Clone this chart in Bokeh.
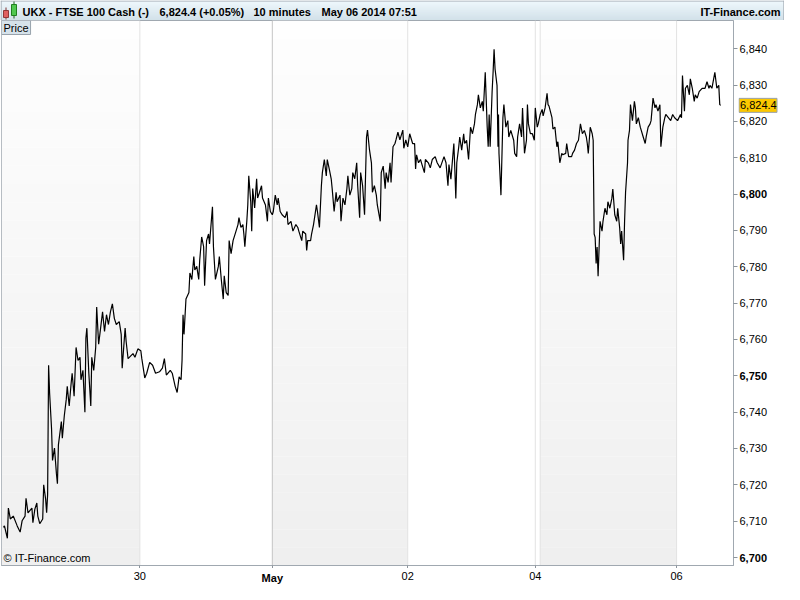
from bokeh.plotting import figure
from bokeh.layouts import column, row
from bokeh.models import Range1d, FixedTicker, Span, Label
from bokeh.core.properties import value
from bokeh.embed import file_html
from bokeh.resources import INLINE

# ---------------- data (10-minute bars, bar index on x) ----------------
bar = [
    3, 4, 7, 8, 10, 13, 17, 20, 22, 25,
    26, 28, 32, 33, 35, 37, 38, 40, 43, 44,
    46, 47, 48, 49, 50, 52, 53, 55, 57, 58,
    59, 62, 63, 65, 67, 68, 70, 72, 73, 75,
    77, 79, 81, 82, 84, 86, 87, 88, 90, 92,
    93, 95, 97, 98, 100, 102, 104, 106, 108, 110,
    112, 114, 116, 118, 121, 123, 124, 126, 127, 128,
    130, 135, 137, 140, 143, 144, 147, 149, 152, 155,
    158, 162, 165, 167, 169, 173, 175, 178, 180, 182,
    184, 185, 186, 187, 189, 192, 193, 195, 197, 198,
    200, 202, 203, 205, 207, 208, 210, 212, 213, 216,
    217, 219, 222, 223, 225, 227, 228, 230, 232, 233,
    235, 237, 240, 242, 243, 245, 247, 248, 249, 251,
    252, 253, 255, 256, 257, 259, 261, 262, 264, 266,
    267, 270, 272, 273, 275, 277, 278, 280, 282, 283,
    285, 287, 290, 292, 293, 296, 298, 301, 303, 304,
    307, 308, 311, 312, 313, 316, 317, 319, 322, 323,
    325, 327, 328, 330, 332, 333, 335, 337, 338, 340,
    342, 343, 346, 347, 349, 351, 353, 354, 356, 358,
    359, 361, 363, 364, 366, 367, 369, 371, 373, 374,
    376, 378, 379, 381, 383, 384, 387, 388, 390, 392,
    393, 395, 397, 398, 400, 402, 403, 405, 407, 410,
    411, 413, 415, 417, 418, 420, 422, 423, 424, 426,
    428, 430, 432, 433, 436, 438, 440, 443, 445, 448,
    452, 454, 456, 457, 459, 462, 463, 464, 465, 467,
    468, 470, 472, 473, 475, 477, 479, 481, 483, 484,
    486, 487, 489, 491, 492, 494, 496, 497, 498, 499,
    501, 502, 503, 504, 506, 507, 507.5, 508, 510, 512,
    513, 515, 517, 518, 520, 523, 524, 526, 527, 529,
    531, 532, 534, 536, 537, 538, 540, 542, 544, 545,
    547, 548, 550, 552, 553, 555, 557, 558, 559, 562,
    563, 565, 567, 568, 570, 572, 573, 576, 577, 579,
    582, 583, 585, 587, 589, 591, 593, 595, 597, 598,
    599, 601, 603, 604, 605, 606, 607, 608, 609, 611,
    613, 614, 616, 618, 619, 621, 623, 624, 626, 628,
    629, 631, 632, 633, 635, 636, 637, 639, 639.5, 641,
    642, 644, 646, 647, 648, 650, 652, 653, 655, 657,
    658, 660, 662, 663, 665, 667, 668, 670, 672, 673,
    675, 677, 678, 683, 685, 687, 690, 693, 694, 695,
    697, 698, 700, 702, 703, 705, 707, 708, 710, 712,
    715, 718, 720, 722, 723, 725, 728, 730, 732, 733,
    734,
]
price = [
    6708.3, 6708.7, 6705.3, 6713.6, 6710.6, 6711.4, 6708.7, 6707.0, 6710.1, 6711.4,
    6716.3, 6712.3, 6713.6, 6709.6, 6713.3, 6715.0, 6711.4, 6709.3, 6710.6, 6720.0,
    6716.0, 6712.3, 6717.3, 6752.9, 6745.4, 6735.5, 6726.7, 6730.1, 6723.0, 6720.3,
    6731.0, 6737.4, 6732.8, 6739.0, 6743.5, 6747.1, 6741.7, 6748.0, 6750.7, 6744.4,
    6757.8, 6754.2, 6755.1, 6748.9, 6751.5, 6740.0, 6760.4, 6763.1, 6750.7, 6741.7,
    6755.1, 6751.5, 6757.8, 6768.9, 6758.7, 6763.1, 6767.6, 6762.2, 6766.8, 6764.1,
    6767.6, 6769.8, 6765.8, 6764.1, 6764.9, 6761.4, 6752.1, 6759.5, 6763.1, 6759.5,
    6754.7, 6756.1, 6755.1, 6757.4, 6756.9, 6754.7, 6749.4, 6750.7, 6753.7, 6752.9,
    6750.7, 6751.1, 6752.1, 6754.7, 6750.2, 6751.5, 6750.7, 6747.1, 6745.4, 6749.7,
    6748.9, 6754.2, 6766.8, 6761.4, 6771.1, 6772.9, 6778.3, 6776.5, 6782.8, 6779.1,
    6780.1, 6776.5, 6781.8, 6788.2, 6785.5, 6774.8, 6787.2, 6789.0, 6786.3, 6796.5,
    6785.5, 6776.5, 6780.1, 6782.8, 6776.5, 6771.1, 6777.5, 6772.9, 6772.1, 6787.2,
    6783.6, 6787.2, 6789.8, 6791.6, 6793.5, 6790.8, 6791.6, 6789.0, 6785.5, 6792.5,
    6797.0, 6805.0, 6797.9, 6789.8, 6801.5, 6796.2, 6804.2, 6798.9, 6800.5, 6802.3,
    6798.9, 6797.0, 6792.5, 6798.9, 6795.2, 6794.3, 6795.2, 6799.7, 6797.0, 6798.9,
    6795.2, 6794.3, 6793.5, 6795.2, 6791.6, 6792.5, 6789.8, 6791.6, 6790.8, 6789.8,
    6787.2, 6789.8, 6789.0, 6784.5, 6787.2, 6787.2, 6789.0, 6791.6, 6797.0, 6795.2,
    6790.8, 6802.3, 6805.9, 6809.5, 6805.0, 6809.5, 6806.9, 6804.2, 6801.5, 6795.2,
    6800.5, 6797.9, 6799.7, 6792.5, 6798.9, 6797.0, 6801.5, 6805.0, 6799.7, 6801.5,
    6805.9, 6804.2, 6808.6, 6802.3, 6793.5, 6805.9, 6802.3, 6794.3, 6815.7, 6817.6,
    6812.2, 6808.6, 6800.5, 6802.3, 6799.7, 6797.0, 6792.5, 6805.9, 6807.7, 6801.5,
    6805.9, 6803.2, 6808.6, 6803.2, 6813.0, 6813.9, 6814.9, 6817.0, 6814.9, 6817.6,
    6812.6, 6814.9, 6813.0, 6816.6, 6815.7, 6813.9, 6813.9, 6806.9, 6810.8, 6808.6,
    6809.5, 6807.7, 6805.9, 6809.5, 6808.6, 6807.2, 6809.5, 6810.3, 6808.6, 6807.2,
    6810.3, 6808.6, 6802.3, 6808.1, 6804.1, 6813.9, 6806.8, 6798.8, 6808.6, 6813.0,
    6815.7, 6812.1, 6816.6, 6813.9, 6814.8, 6809.5, 6818.4, 6816.6, 6819.3, 6821.9,
    6824.6, 6827.3, 6823.7, 6825.5, 6822.8, 6833.5, 6818.4, 6813.0, 6821.9, 6813.0,
    6828.2, 6833.5, 6839.8, 6834.4, 6829.9, 6813.0, 6821.9, 6811.2, 6799.7, 6821.0,
    6824.6, 6818.4, 6820.2, 6815.7, 6817.5, 6814.8, 6811.2, 6810.3, 6815.7, 6819.3,
    6815.7, 6823.7, 6811.2, 6814.8, 6824.6, 6819.3, 6816.6, 6816.6, 6814.8, 6823.7,
    6818.4, 6819.3, 6821.9, 6823.3, 6821.5, 6823.7, 6827.7, 6824.6, 6824.2, 6821.0,
    6817.9, 6818.4, 6813.0, 6814.4, 6808.6, 6811.2, 6810.8, 6811.2, 6813.9, 6810.3,
    6810.3, 6811.2, 6812.1, 6813.9, 6814.8, 6819.3, 6816.6, 6817.5, 6815.7, 6813.9,
    6811.2, 6818.4, 6816.6, 6814.8, 6789.0, 6788.1, 6780.9, 6785.4, 6777.4, 6792.5,
    6789.8, 6792.5, 6796.1, 6794.3, 6797.9, 6796.1, 6798.8, 6801.4, 6794.3, 6792.5,
    6796.1, 6790.7, 6786.3, 6789.8, 6781.8, 6792.5, 6800.5, 6808.6, 6814.8, 6817.5,
    6824.6, 6820.2, 6825.5, 6823.7, 6819.3, 6821.0, 6818.4, 6817.5, 6815.7, 6813.9,
    6815.7, 6818.4, 6819.3, 6820.2, 6826.4, 6823.7, 6824.6, 6822.8, 6824.6, 6813.0,
    6818.4, 6821.0, 6821.9, 6820.2, 6821.9, 6821.0, 6820.2, 6821.9, 6821.0, 6832.6,
    6822.8, 6829.1, 6829.9, 6827.3, 6831.7, 6829.1, 6825.5, 6827.3, 6826.4, 6828.2,
    6829.1, 6829.1, 6830.9, 6829.1, 6829.9, 6829.1, 6833.5, 6829.1, 6829.9, 6824.6,
    6824.4,
]
assert len(bar) == len(price)

# day boundaries (bar index where each calendar day starts) and day-of-month
day_start_bar = [1, 142, 277, 415, 545, 550, 689]
day_of_month = [29, 30, 1, 2, 4, 5, 6]
month_names = {1: "May"}

y_ticks = list(range(6700, 6841, 10))

header_texts = ["UKX - FTSE 100 Cash (-)", "6,824.4 (+0.05%)", "10 minutes", "May 06 2014 07:51"]
brand = "IT-Finance.com"

# ---------------- layout constants ----------------
W, H = 784, 584
HDR = 20
SIDE = 46
TICKS = 3      # height of the bottom axis (tick marks only)
STRIP = 16     # height of the date-label strip
BL, BR = 1, 5  # left / right borders of the main plot
x_start, x_end = 1, 747
y_lo, y_hi = 6697.8, 6847.75
FONT = "Liberation Sans"
GRAYLINE = "#a0a8b0"
TICKCOL = "#8c949c"

# ---------------- header ----------------
hdr = figure(width=W, height=HDR, x_range=Range1d(0, W), y_range=Range1d(HDR, 0),
             output_backend="svg", toolbar_location=None, min_border=0,
             x_axis_location=None, y_axis_location=None, outline_line_color=None)
hdr.frame_align = False
hdr.grid.visible = False
top_c, bot_c = (234, 246, 252), (195, 215, 226)
hl, hr, hb, ht, hc = [], [], [], [], []
for k in range(HDR):
    t = k / (HDR - 1)
    c = tuple(int(round(a + (b - a) * t)) for a, b in zip(top_c, bot_c))
    hl.append(0); hr.append(W); ht.append(k); hb.append(k + 1)
    hc.append("#%02x%02x%02x" % c)
hdr.quad(left=hl, right=hr, top=ht, bottom=hb, fill_color=hc, line_color=None)
hdr.segment(x0=[0, 0.6, W - 0.6], y0=[0.5, 0, 0], x1=[W, 0.6, W - 0.6], y1=[0.5, HDR, HDR],
            line_color=GRAYLINE, line_width=1)
# candle icon
hdr.segment(x0=[5.5, 13.5], y0=[7, 1], x1=[5.5, 13.5], y1=[19, 18], line_color=["#803030", "#206020"])
hdr.quad(left=[3, 11], right=[8, 16], top=[10, 4], bottom=[17, 15],
         fill_color=["#e06060", "#50c850"], line_color=["#903838", "#208020"])
hdr.text(x=[22, 159, 253, 321], y=[11, 11, 11, 11], text=header_texts,
         text_font=value(FONT), text_font_style="bold", text_font_size="11px",
         text_baseline="middle", text_align="left", text_color="#000000")
hdr.text(x=[W - 4], y=[11], text=[brand], text_font=value(FONT), text_font_style="bold",
         text_font_size="11px", text_baseline="middle", text_align="right", text_color="#000000")

# ---------------- main chart ----------------
main_h = H - HDR - STRIP
p = figure(width=W - SIDE, height=main_h, x_range=Range1d(x_start, x_end),
           y_range=Range1d(y_lo, y_hi),
           output_backend="svg", toolbar_location=None, y_axis_location="right",
           min_border_left=BL, min_border_right=BR, min_border_top=0, min_border_bottom=TICKS,
           background_fill_color="white", border_fill_color="white",
           outline_line_color=GRAYLINE)
p.frame_align = False
p.grid.visible = False

# shaded (odd calendar day) backgrounds with a vertical gradient
bounds = day_start_bar + [x_end]
n = 30
ql, qr, qb, qt, qc = [], [], [], [], []
for i, d in enumerate(day_of_month):
    if d % 2 == 1:
        for k in range(n):
            t = (k + 0.5) / n
            g = int(round(0xef + (0xfe - 0xef) * t))
            ql.append(bounds[i]); qr.append(bounds[i + 1])
            qb.append(y_lo + (y_hi - y_lo) * k / n)
            qt.append(y_lo + (y_hi - y_lo) * (k + 1) / n)
            qc.append("#%02x%02x%02x" % (g, g, g))
shade = p.quad(left=ql, right=qr, bottom=qb, top=qt, fill_color=qc, line_color=None)
shade.level = "underlay"

for b, d in zip(day_start_bar[1:], day_of_month[1:]):
    sp = Span(location=b, dimension="height",
              line_color="#c4c4c4" if d in month_names else "#e2e2e2", line_width=1)
    sp.level = "underlay"
    p.add_layout(sp)

p.line(bar, price, line_color="black", line_width=1.2)

# y axis (right): tick marks; labels are drawn in the side strip on the same scale
yax = p.yaxis[0]
yax.ticker = FixedTicker(ticks=y_ticks)
yax.major_label_overrides = {t: "" for t in y_ticks}
yax.major_label_text_font_size = "0px"
yax.major_label_standoff = 0
yax.major_tick_out = 4
yax.major_tick_in = 0
yax.minor_tick_out = 0
yax.minor_tick_in = 0
yax.axis_line_color = GRAYLINE
yax.major_tick_line_color = TICKCOL

# x axis (below): tick marks; labels drawn in the date strip on the same scale
lab_bars, lab_text, lab_style = [], [], []
for b, d in zip(day_start_bar[1:], day_of_month[1:]):
    if d % 2 == 0 or d in month_names:
        lab_bars.append(b)
        lab_text.append(month_names.get(d, f"{d:02d}"))
        lab_style.append("bold" if d in month_names else "normal")
xax = p.xaxis[0]
xax.ticker = FixedTicker(ticks=lab_bars)
xax.major_label_overrides = {b: "" for b in lab_bars}
xax.major_label_text_font_size = "0px"
xax.major_label_standoff = 0
xax.major_tick_out = TICKS
xax.major_tick_in = 0
xax.minor_tick_out = 0
xax.minor_tick_in = 0
xax.axis_line_color = GRAYLINE
xax.major_tick_line_color = TICKCOL

# "Price" tag and copyright
p.add_layout(Label(x=x_start, y=y_hi, x_offset=0, y_offset=0, text="Price", text_font=FONT,
                   text_font_size="11px", text_baseline="top", text_align="left",
                   text_color="#000000", background_fill_color="#d6e2ea",
                   border_line_color="#98a2ac",
                   padding=dict(left=2, right=2, top=1, bottom=1)))
p.add_layout(Label(x=x_start, y=y_lo, x_offset=2, y_offset=2, text="\u00a9 IT-Finance.com",
                   text_font=FONT, text_font_size="11px", text_baseline="bottom",
                   text_align="left", text_color="#000000"))

# ---------------- date-label strip (shares the x scale) ----------------
strip = figure(width=W - SIDE, height=STRIP, x_range=p.x_range, y_range=Range1d(STRIP, 0),
               output_backend="svg", toolbar_location=None,
               x_axis_location=None, y_axis_location=None,
               min_border_left=BL, min_border_right=BR, min_border_top=0, min_border_bottom=0,
               background_fill_color="white", border_fill_color="white", outline_line_color=None)
strip.frame_align = False
strip.grid.visible = False
for style in ("normal", "bold"):
    xs = [b for b, s in zip(lab_bars, lab_style) if s == style]
    ts = [t for t, s in zip(lab_text, lab_style) if s == style]
    strip.text(x=xs, y=[3] * len(xs), text=ts, text_font=value(FONT), text_font_size="11px",
               text_font_style=style, text_baseline="top", text_align="center",
               text_color="#000000")

# ---------------- side strip: price-scale labels + last-price marker ----------------
side = figure(width=SIDE, height=H - HDR, x_range=Range1d(0, SIDE), y_range=p.y_range,
              output_backend="svg", toolbar_location=None,
              x_axis_location=None, y_axis_location=None,
              min_border_left=0, min_border_right=0, min_border_top=0,
              min_border_bottom=TICKS + STRIP,
              background_fill_color="white", border_fill_color="white", outline_line_color=None)
side.frame_align = False
side.grid.visible = False

for style, keep in (("normal", lambda t: t % 50 != 0), ("bold", lambda t: t % 50 == 0)):
    ys = [t for t in y_ticks if keep(t)]
    side.text(x=[1] * len(ys), y=ys, text=[f"{t:,}" for t in ys],
              text_font=value(FONT), text_font_size="11px", text_font_style=style,
              text_baseline="middle", text_align="left", text_color="#000000")

last = price[-1]
side.rect(x=[19.5], y=[last], width=[38], height=[14], height_units="screen",
          fill_color="#fcc800", line_color="#98a2ac")
side.text(x=[1.5], y=[last], text=[f"{last:,.1f}"], text_font=value(FONT),
          text_font_size="11px", text_baseline="middle", text_align="left", text_color="#000000")

layout = column(hdr, row(column(p, strip, spacing=0), side, spacing=0), spacing=0)
open("out.html", "w").write(file_html(layout, INLINE))
